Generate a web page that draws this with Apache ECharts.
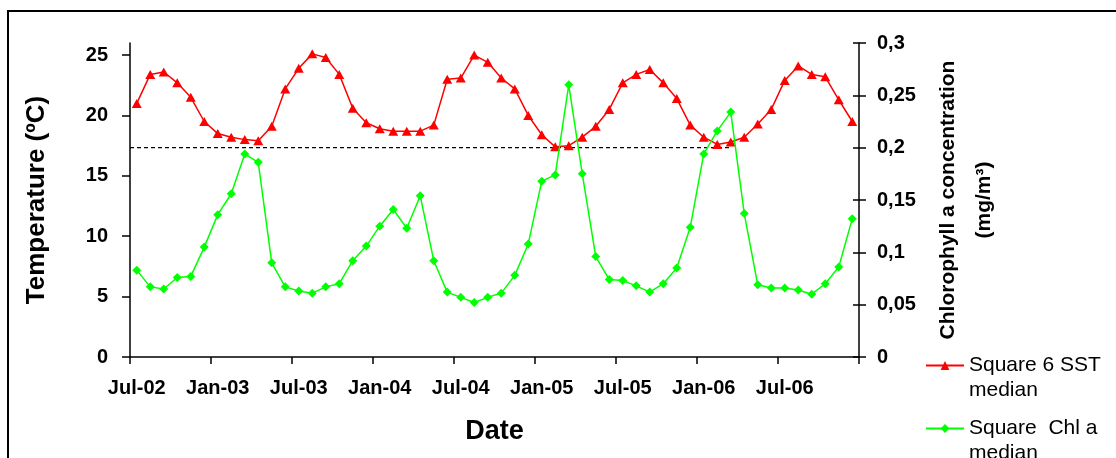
<!DOCTYPE html>
<html>
<head>
<meta charset="utf-8">
<script src="https://cdn.jsdelivr.net/npm/echarts@6/dist/echarts.min.js"></script>
<style>
  html, body { margin: 0; padding: 0; background: #fff; }
  #chart { width: 1116px; height: 458px; }
</style>
</head>
<body>
<div id="chart"></div>
<script>
// Monthly categories, Jul-02 .. Dec-06
const months = [
  'Jul-02','Aug-02','Sep-02','Oct-02','Nov-02','Dec-02',
  'Jan-03','Feb-03','Mar-03','Apr-03','May-03','Jun-03',
  'Jul-03','Aug-03','Sep-03','Oct-03','Nov-03','Dec-03',
  'Jan-04','Feb-04','Mar-04','Apr-04','May-04','Jun-04',
  'Jul-04','Aug-04','Sep-04','Oct-04','Nov-04','Dec-04',
  'Jan-05','Feb-05','Mar-05','Apr-05','May-05','Jun-05',
  'Jul-05','Aug-05','Sep-05','Oct-05','Nov-05','Dec-05',
  'Jan-06','Feb-06','Mar-06','Apr-06','May-06','Jun-06',
  'Jul-06','Aug-06','Sep-06','Oct-06','Nov-06','Dec-06'
];

// Square 6 median sea surface temperature (ºC)
const sstMedian = [
  21.0, 23.4, 23.6, 22.7, 21.5, 19.5, 18.5, 18.2, 18.0, 17.9, 19.1, 22.2,
  23.9, 25.1, 24.8, 23.4, 20.6, 19.4, 18.9, 18.7, 18.7, 18.7, 19.2, 23.0,
  23.1, 25.0, 24.4, 23.1, 22.2, 20.0, 18.4, 17.4, 17.5, 18.2, 19.1, 20.5,
  22.7, 23.4, 23.8, 22.7, 21.4, 19.2, 18.2, 17.6, 17.8, 18.2, 19.3, 20.5,
  22.9, 24.1, 23.4, 23.2, 21.3, 19.5
];

// Square median chlorophyll a concentration (mg/m3)
const chlMedian = [
  0.083, 0.067, 0.065, 0.076, 0.077, 0.105, 0.136, 0.156, 0.194, 0.186, 0.090, 0.067,
  0.063, 0.061, 0.067, 0.070, 0.092, 0.106, 0.125, 0.141, 0.123, 0.154, 0.092, 0.062,
  0.057, 0.052, 0.057, 0.061, 0.078, 0.108, 0.168, 0.174, 0.260, 0.175, 0.096, 0.074,
  0.073, 0.068, 0.062, 0.070, 0.085, 0.124, 0.194, 0.216, 0.234, 0.137, 0.069, 0.066,
  0.066, 0.064, 0.060, 0.070, 0.086, 0.132
];

const tempTicks = [0, 5, 10, 15, 20, 25];
const chlThreshold = 0.2;
const thresholdEndMonth = 'Mar-06';

const FONT = "'Liberation Sans', Arial, sans-serif";
const AXIS_COLOR = '#000';

const chart = echarts.init(document.getElementById('chart'), null, { renderer: 'canvas' });

const chlLabel = v => String(+v.toFixed(2)).replace('.', ',');

const frame = {
  id: 'frame',
  type: 'rect',
  shape: { x: 8, y: 11, width: 1300, height: 700 },
  style: { fill: 'none', stroke: '#000', lineWidth: 2 },
  silent: true,
  z: -1
};

chart.setOption({
  backgroundColor: '#fff',
  animation: false,
  textStyle: { fontFamily: FONT },
  graphic: [frame],
  grid: { left: 130, right: 257, top: 43, bottom: 101 },
  legend: {
    orient: 'vertical',
    left: 925,
    top: 328,
    height: 200,
    padding: 0,
    itemWidth: 38,
    itemHeight: 11,
    itemGap: -12,
    // blank leading line keeps the icon level with the first text line
    formatter: name => ' \n' + name,
    textStyle: {
      fontFamily: FONT,
      fontSize: 21,
      lineHeight: 25,
      color: '#000'
    },
    data: ['Square 6 SST\nmedian', 'Square  Chl a\nmedian']
  },
  xAxis: {
    type: 'category',
    data: months,
    boundaryGap: true,
    name: 'Date',
    nameLocation: 'middle',
    nameGap: 61,
    nameTextStyle: { fontFamily: FONT, fontWeight: 'bold', fontSize: 27, color: '#000' },
    axisLine: { lineStyle: { color: AXIS_COLOR, width: 1.5 } },
    axisTick: { show: true, interval: 5, length: 7, lineStyle: { color: AXIS_COLOR, width: 1.5 } },
    axisLabel: { interval: 5, margin: 21, fontFamily: FONT, fontWeight: 'bold', fontSize: 20, color: '#000' },
    splitLine: { show: false }
  },
  yAxis: [
    {
      type: 'value',
      position: 'left',
      min: 0,
      max: 26,
      interval: 5,
      name: 'Temperature (ºC)',
      nameLocation: 'middle',
      nameRotate: 90,
      nameGap: 80,
      nameTextStyle: { fontFamily: FONT, fontWeight: 'bold', fontSize: 26, color: '#000' },
      axisLine: { show: true, lineStyle: { color: AXIS_COLOR, width: 1.5 } },
      axisTick: { show: true, length: 8, customValues: tempTicks, lineStyle: { color: AXIS_COLOR, width: 1.5 } },
      axisLabel: { margin: 22, customValues: tempTicks, fontFamily: FONT, fontWeight: 'bold', fontSize: 20, color: '#000' },
      splitLine: { show: false }
    },
    {
      type: 'value',
      position: 'right',
      min: 0,
      max: 0.3,
      interval: 0.05,
      name: 'Chlorophyll a concentration\n(mg/m³)',
      nameLocation: 'middle',
      nameRotate: 90,
      nameGap: 71,
      nameTextStyle: { fontFamily: FONT, fontWeight: 'bold', fontSize: 21, lineHeight: 36, color: '#000', align: 'center' },
      axisLine: { show: true, lineStyle: { color: AXIS_COLOR, width: 1.5 } },
      axisTick: { show: true, length: 7, lineStyle: { color: AXIS_COLOR, width: 1.5 } },
      axisLabel: { margin: 18, formatter: chlLabel, fontFamily: FONT, fontWeight: 'bold', fontSize: 20, color: '#000' },
      splitLine: { show: false }
    },
    {
      // inner half of the crossing ticks on the chlorophyll axis
      type: 'value',
      position: 'right',
      min: 0,
      max: 0.3,
      interval: 0.05,
      axisLine: { show: false },
      axisTick: { show: true, inside: true, length: 6, lineStyle: { color: AXIS_COLOR, width: 1.5 } },
      axisLabel: { show: false },
      splitLine: { show: false }
    }
  ],
  series: [
    {
      name: 'Square 6 SST\nmedian',
      type: 'line',
      yAxisIndex: 0,
      data: sstMedian,
      symbol: 'triangle',
      symbolSize: [10, 9],
      lineStyle: { color: '#ff0000', width: 1.5 },
      itemStyle: { color: '#ff0000' },
      z: 3
    },
    {
      name: 'Square  Chl a\nmedian',
      type: 'line',
      yAxisIndex: 1,
      data: chlMedian,
      symbol: 'diamond',
      symbolSize: [9, 9],
      lineStyle: { color: '#00ff00', width: 1.5 },
      itemStyle: { color: '#00ff00' },
      z: 4
    }
  ]
});

// Dashed chlorophyll threshold: from the start of the date axis to Mar-06,
// positioned through the chart's own axis scales.
const firstCenter = chart.convertToPixel({ xAxisIndex: 0 }, months[0]);
const secondCenter = chart.convertToPixel({ xAxisIndex: 0 }, months[1]);
const axisStart = firstCenter - (secondCenter - firstCenter) / 2;
const thresholdEnd = chart.convertToPixel({ xAxisIndex: 0 }, thresholdEndMonth);
const thresholdY = chart.convertToPixel({ yAxisIndex: 1 }, chlThreshold);

chart.setOption({
  graphic: [
    frame,
    {
      id: 'threshold',
      type: 'line',
      shape: { x1: axisStart, y1: thresholdY, x2: thresholdEnd, y2: thresholdY },
      style: { stroke: '#000', lineWidth: 1.2, lineDash: [4, 3] },
      silent: true,
      z: 2
    }
  ]
});
</script>
</body>
</html>
